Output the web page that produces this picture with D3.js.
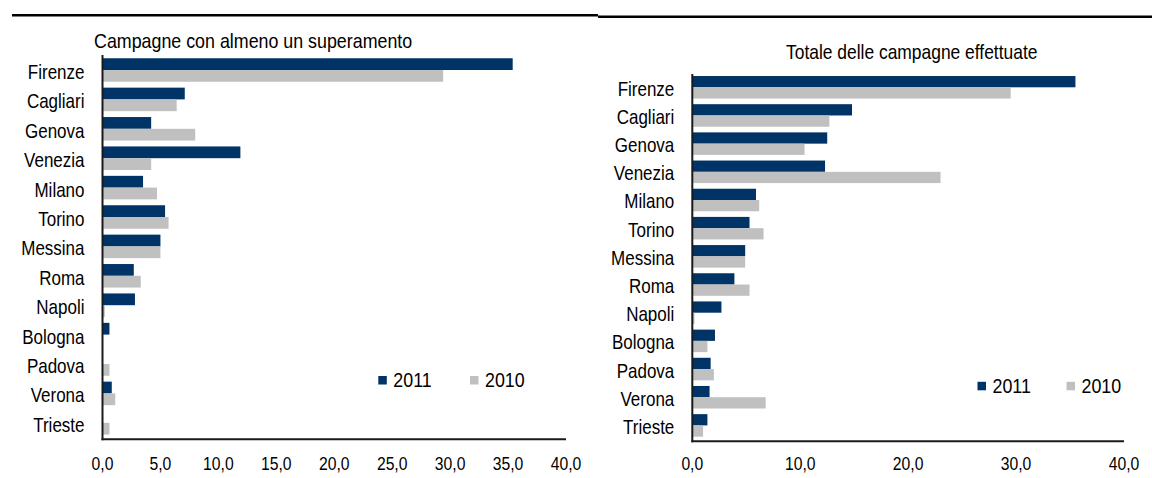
<!DOCTYPE html>
<html>
<head>
<meta charset="utf-8">
<script src="https://cdn.jsdelivr.net/npm/d3@7"></script>
<style>
  html, body { margin: 0; padding: 0; background: #fff; }
  svg { display: block; }
  text { font-family: "Liberation Sans", Arial, sans-serif; fill: #000; }
</style>
</head>
<body>
<svg id="chart" width="1152" height="478"></svg>
<script>
const categories = ["Firenze","Cagliari","Genova","Venezia","Milano","Torino","Messina","Roma","Napoli","Bologna","Padova","Verona","Trieste"];
const seriesNames = ["2011","2010"];
const leftTitle = "Campagne con almeno un superamento";
const rightTitle = "Totale delle campagne effettuate";
const left2011 = [35.4, 7.1, 4.2, 11.9, 3.5, 5.4, 5.0, 2.7, 2.8, 0.6, 0.0, 0.8, 0.0];
const left2010 = [29.4, 6.4, 8.0, 4.2, 4.7, 5.7, 5.0, 3.3, 0.2, 0.0, 0.6, 1.1, 0.6];
const right2011 = [35.5, 14.8, 12.5, 12.3, 5.9, 5.3, 4.9, 3.9, 2.7, 2.1, 1.7, 1.6, 1.4];
const right2010 = [29.5, 12.7, 10.4, 23.0, 6.2, 6.6, 4.9, 5.3, 0.2, 1.4, 2.0, 6.8, 1.0];
const leftTicks = [0, 5, 10, 15, 20, 25, 30, 35, 40];
const rightTicks = [0, 10, 20, 30, 40];
const colors = ["#003366", "#c0c0c0"];

const svg = d3.select("#chart");
const fmt = v => d3.format(".1f")(v).replace(".", ",");
const SX = 0.85; // narrow (condensed) text look

function addText(parent, x, y, str, size, anchor) {
  return parent.append("text")
    .attr("transform", `translate(${x},${y}) scale(${SX},1)`)
    .attr("font-size", size)
    .attr("text-anchor", anchor || "start")
    .text(str);
}

// top rules
svg.append("line").attr("x1", 12).attr("x2", 598).attr("y1", 15.2).attr("y2", 15.2)
  .attr("stroke", "#000").attr("stroke-width", 2.6);
svg.append("line").attr("x1", 598).attr("x2", 1152).attr("y1", 16.8).attr("y2", 16.8)
  .attr("stroke", "#000").attr("stroke-width", 2.6);

function panel(cfg) {
  const g = svg.append("g");
  const x = d3.scaleLinear().domain([0, 40]).range([cfg.x0, cfg.x1]);
  const y = d3.scaleBand().domain(categories).range([cfg.y0, cfg.y1])
    .paddingInner(0.2).paddingOuter(0.1);
  const sub = d3.scaleBand().domain(seriesNames).range([0, y.bandwidth()]);

  const data = categories.map((c, i) => ({c, vals: [cfg.s2011[i], cfg.s2010[i]]}));
  const grp = g.selectAll("g.cat").data(data).join("g")
    .attr("transform", d => `translate(0,${y(d.c)})`);
  grp.selectAll("rect").data(d => d.vals.map((v, k) => ({v, k}))).join("rect")
    .attr("x", x(0))
    .attr("y", d => sub(seriesNames[d.k]))
    .attr("width", d => x(d.v) - x(0))
    .attr("height", sub.bandwidth())
    .attr("fill", d => colors[d.k]);

  // category labels
  categories.forEach(c => {
    addText(g, x(0) - 18, y(c) + y.bandwidth() / 2 + cfg.labelDy, c, 20, "end");
  });

  // axes lines
  const axisY = cfg.y1 + 1.8;
  g.append("line").attr("x1", x(0)).attr("x2", x(0)).attr("y1", cfg.axisTop).attr("y2", axisY + 1)
    .attr("stroke", "#1a1a1a").attr("stroke-width", 2);
  g.append("line").attr("x1", x(0) - 1).attr("x2", x(40)).attr("y1", axisY).attr("y2", axisY)
    .attr("stroke", "#1a1a1a").attr("stroke-width", 2);

  // tick labels
  cfg.ticks.forEach(t => addText(g, x(t), 470, fmt(t), 18.5, "middle"));

  // title
  addText(g, cfg.titleX, cfg.titleY, cfg.title, cfg.titleSize, "start");

  // legend
  cfg.legend.forEach((L, k) => {
    g.append("rect").attr("x", L.x).attr("y", L.y - 4.2).attr("width", 8.5).attr("height", 8.5)
      .attr("fill", colors[k]);
    addText(g, L.x + 15, L.y + 7, seriesNames[k], 21, "start");
  });
}

panel({
  x0: 102.5, x1: 566, y0: 55.3, y1: 437.5, axisTop: 55,
  s2011: left2011, s2010: left2010, ticks: leftTicks,
  title: leftTitle, titleX: 94, titleY: 48, titleSize: 21, labelDy: 9,
  legend: [{x: 378.3, y: 380.2}, {x: 470, y: 380.2}]
});
panel({
  x0: 692.3, x1: 1124, y0: 73.2, y1: 439.5, axisTop: 74,
  s2011: right2011, s2010: right2010, ticks: rightTicks,
  title: rightTitle, titleX: 786, titleY: 59, titleSize: 20.5, labelDy: 8.5,
  legend: [{x: 977.5, y: 386}, {x: 1066.5, y: 386}]
});
</script>
</body>
</html>
